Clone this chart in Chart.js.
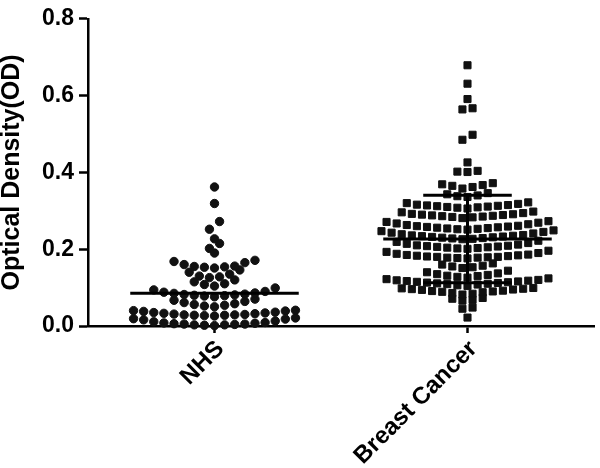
<!DOCTYPE html>
<html>
<head>
<meta charset="utf-8">
<script src="https://cdn.jsdelivr.net/npm/chart.js@4/dist/chart.umd.min.js"></script>
<style>
  html, body { margin: 0; padding: 0; background: #ffffff; }
  #wrap { width: 600px; height: 468px; position: relative; }
</style>
</head>
<body>
<div id="wrap"><canvas id="c"></canvas></div>
<script>
// ---- data ----
const categories = ['NHS', 'Breast Cancer'];
const yTicks = [0.0, 0.2, 0.4, 0.6, 0.8];
const yTitle = 'Optical Density(OD)';

const nhsValues = [
  0.001, 0.002, 0.003, 0.003, 0.004, 0.005, 0.005, 0.006, 0.007, 0.008, 0.009, 0.011, 0.013, 0.016, 0.018, 0.019, 0.021,
  0.026, 0.027, 0.028, 0.028, 0.029, 0.029, 0.030, 0.031, 0.032, 0.033, 0.034, 0.035, 0.036, 0.038, 0.039, 0.040, 0.041,
  0.050, 0.052, 0.054, 0.056, 0.058, 0.061, 0.064, 0.067, 0.070,
  0.076, 0.078, 0.079, 0.080, 0.081, 0.082, 0.083, 0.085, 0.086, 0.088, 0.090, 0.094, 0.099,
  0.104, 0.108, 0.110, 0.115, 0.120,
  0.126, 0.128, 0.130, 0.135, 0.140, 0.146,
  0.151, 0.153, 0.154, 0.155, 0.156, 0.160, 0.165, 0.168, 0.171,
  0.190, 0.202, 0.215, 0.227, 0.252, 0.272, 0.319, 0.362
];

const breastValues = [
  0.022,
  0.045, 0.048,
  0.066, 0.068, 0.071, 0.073,
  0.082, 0.084, 0.086, 0.088, 0.089, 0.090, 0.091, 0.092, 0.094, 0.095, 0.096, 0.097, 0.098, 0.099,
  0.104, 0.106, 0.108, 0.109, 0.110, 0.111, 0.112, 0.113, 0.114, 0.115, 0.116, 0.117, 0.118, 0.119, 0.120, 0.122, 0.124,
  0.126, 0.128, 0.130, 0.131, 0.133, 0.135, 0.137, 0.140, 0.144,
  0.151, 0.153, 0.155, 0.157, 0.160, 0.163,
  0.176, 0.177, 0.178, 0.178, 0.179, 0.180, 0.180, 0.181, 0.182, 0.183, 0.184, 0.185, 0.186, 0.188, 0.190, 0.193, 0.196,
  0.201, 0.202, 0.203, 0.204, 0.205, 0.206, 0.207, 0.208, 0.209, 0.210, 0.212, 0.214, 0.216, 0.219, 0.222,
  0.226, 0.227, 0.228, 0.229, 0.230, 0.231, 0.232, 0.233, 0.234, 0.235, 0.236, 0.237, 0.239, 0.241, 0.243, 0.245, 0.247, 0.249,
  0.251, 0.252, 0.253, 0.254, 0.255, 0.256, 0.257, 0.258, 0.259, 0.260, 0.261, 0.263, 0.265, 0.267, 0.269, 0.271, 0.273,
  0.281, 0.283, 0.284, 0.285, 0.286, 0.287, 0.288, 0.289, 0.290, 0.291, 0.292, 0.294, 0.296, 0.298,
  0.306, 0.308, 0.309, 0.310, 0.311, 0.312, 0.313, 0.314, 0.315, 0.316, 0.318, 0.320, 0.322,
  0.336, 0.338, 0.340, 0.343, 0.346,
  0.358, 0.362, 0.365, 0.367, 0.369, 0.372,
  0.401, 0.402, 0.404,
  0.426,
  0.485, 0.498,
  0.564, 0.567,
  0.591,
  0.631,
  0.679
];

// ---- layout helpers (Prism-like binned dot plot) ----
const BIN = 0.025;    // vertical bin height in value units
const STEP = 0.04;    // horizontal spacing in category units
function swarm(values, center) {
  const bins = new Map();
  values.forEach(v => {
    const k = Math.floor(v / BIN + 1e-9);
    if (!bins.has(k)) bins.set(k, []);
    bins.get(k).push(v);
  });
  const pts = [];
  bins.forEach(list => {
    list.sort((a, b) => a - b);
    const n = list.length;
    const slots = [];
    for (let j = 0; j < n; j++) slots.push(j - (n - 1) / 2);
    slots.sort((a, b) => Math.abs(a) - Math.abs(b) || a - b);
    list.forEach((v, i) => pts.push({ x: center + slots[i] * STEP, y: v }));
  });
  return pts;
}
function mean(a) { return a.reduce((s, v) => s + v, 0) / a.length; }
function sd(a) { const m = mean(a); return Math.sqrt(a.reduce((s, v) => s + (v - m) * (v - m), 0) / (a.length - 1)); }

const MEAN_HALF = 0.333, CAP_HALF = 0.175;
const nhsMean = mean(nhsValues);
const bcMean = mean(breastValues), bcSd = sd(breastValues);

const INK = '#111111';
const lineDs = (pts) => ({
  type: 'line', data: pts, borderColor: '#000', borderWidth: 3, pointRadius: 0,
  fill: false, tension: 0, clip: false
});

const FONT = "'Liberation Sans', Arial, Helvetica, sans-serif";

new Chart(document.getElementById('c'), {
  type: 'scatter',
  data: {
    datasets: [
      lineDs([{ x: 0 - MEAN_HALF, y: nhsMean }, { x: 0 + MEAN_HALF, y: nhsMean }]),
      lineDs([{ x: 1 - MEAN_HALF, y: bcMean }, { x: 1 + MEAN_HALF, y: bcMean }]),
      lineDs([{ x: 1, y: bcMean - bcSd }, { x: 1, y: bcMean + bcSd }]),
      lineDs([{ x: 1 - CAP_HALF, y: bcMean + bcSd }, { x: 1 + CAP_HALF, y: bcMean + bcSd }]),
      lineDs([{ x: 1 - CAP_HALF, y: bcMean - bcSd }, { x: 1 + CAP_HALF, y: bcMean - bcSd }]),
      {
        label: categories[0], data: swarm(nhsValues, 0), pointStyle: 'circle',
        pointRadius: 4.2, borderWidth: 1, backgroundColor: INK, borderColor: INK, clip: false
      },
      {
        label: categories[1], data: swarm(breastValues, 1), pointStyle: 'rect',
        pointRadius: 5, borderWidth: 1, backgroundColor: INK, borderColor: INK, clip: false
      }
    ]
  },
  options: {
    responsive: true,
    maintainAspectRatio: false,
    animation: false,
    layout: { padding: { top: 12, right: 0, left: 0, bottom: 0 } },
    plugins: { legend: { display: false }, tooltip: { enabled: false } },
    scales: {
      x: {
        type: 'linear', min: -0.5, max: 1.5,
        afterBuildTicks: s => { s.ticks = categories.map((c, i) => ({ value: i })); },
        afterFit: s => { s.height = 142; },
        ticks: {
          autoSkip: false, maxRotation: 45, minRotation: 45, padding: 2, labelOffset: 6,
          color: '#000', font: { family: FONT, size: 24, weight: 'bold' },
          callback: v => categories[v]
        },
        grid: { display: true, drawOnChartArea: false, drawTicks: true, tickLength: 7, tickWidth: 2.5, tickColor: '#000' },
        border: { display: true, color: '#000', width: 2.5 }
      },
      y: {
        min: 0, max: 0.8,
        afterBuildTicks: s => { s.ticks = yTicks.map(v => ({ value: v })); },
        afterFit: s => { s.width = 88; },
        ticks: {
          padding: 5, color: '#000', font: { family: FONT, size: 23, weight: 'bold' },
          callback: v => Number(v).toFixed(1)
        },
        grid: { display: true, drawOnChartArea: false, drawTicks: true, tickLength: 9, tickWidth: 2.5, tickColor: '#000' },
        border: { display: true, color: '#000', width: 2.5 },
        title: {
          display: true, text: yTitle, color: '#000', padding: 0,
          font: { family: FONT, size: 25, weight: 'bold', lineHeight: 1 }
        }
      }
    }
  }
});
</script>
</body>
</html>
